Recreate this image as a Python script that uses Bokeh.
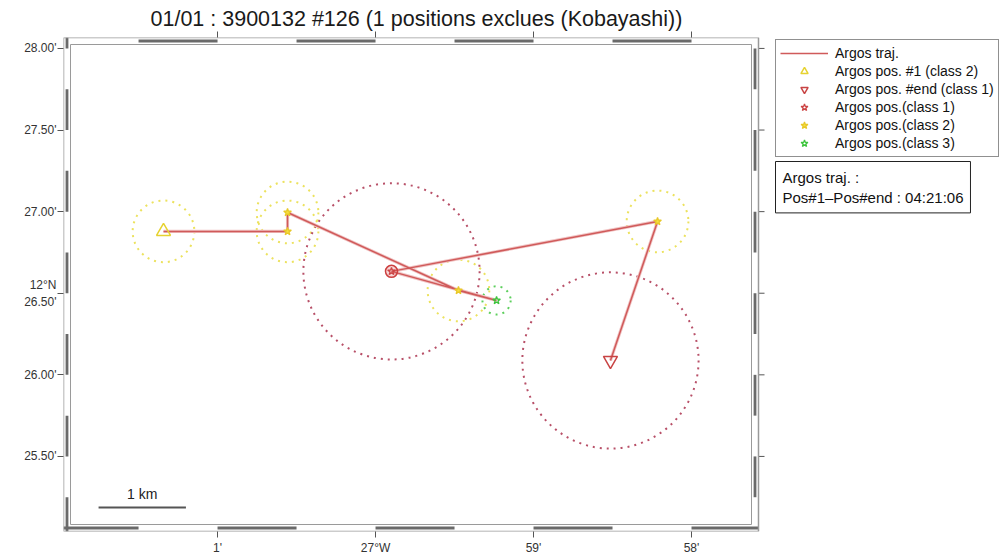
import math
from bokeh.plotting import figure
from bokeh.models import Range1d, LinearAxis, FixedTicker, Label, Legend, LegendItem
from bokeh.embed import file_html
from bokeh.resources import INLINE

# ---------------- data ----------------
# positions in minutes: longitude relative to 27°W (east positive), latitude north of 12°N
lon_min = [-1.342, -0.557, -0.557, 0.525, 0.766, 0.101, 1.785, 1.487]
lat_min = [26.879, 26.879, 26.995, 26.517, 26.456, 26.634, 26.940, 26.088]
argos_class = [2, 2, 2, 2, 3, 1, 2, 1]
err_radius_m = [350, 350, 350, 350, 160, 1000, 350, 1000]

lat_ticks = [25.5, 26.0, 26.5, 27.0, 27.5, 28.0]
lat_tick_labels = ["25.50'", "26.00'", "26.50'", "27.00'", "27.50'", "28.00'"]
lon_ticks = [-1, 0, 1, 2]
lon_tick_labels = ["1'", "27°W", "59'", "58'"]
lat_deg_label = "12°N"
title_text = "01/01 : 3900132 #126 (1 positions exclues (Kobayashi))"
legend_labels = ["Argos traj.", "Argos pos. #1 (class 2)", "Argos pos. #end (class 1)",
                 "Argos pos.(class 1)", "Argos pos.(class 2)", "Argos pos.(class 3)"]
info_text = "Argos traj. :\nPos#1\u2013Pos#end : 04:21:06"
scale_km = 1.0
base_lat_deg = 12.0

# ---------------- style / layout ----------------
FONT = "Liberation Sans"
X0, X1 = -1.975, 2.424          # map frame (minutes)
Y0, Y1 = 25.04, 28.067
FW, FH = 695, 494               # map frame size in px
ML, MT = 63, 37
PXX = FW / (X1 - X0)            # px per lon minute
XR1 = X0 + (1000 - ML) / PXX    # plotting frame extends to the right edge (legend area)
class_line = {1: "#b85068", 2: "#ece25e", 3: "#5ccf5c"}
class_marker_line = {1: "#cc4444", 2: "#e8c828", 3: "#3cc43c"}
class_marker_fill = {1: None, 2: "#f6e040", 3: None}

p = figure(width=1000, height=560, x_range=Range1d(X0, XR1), y_range=Range1d(Y0, Y1),
           output_backend="svg", toolbar_location=None,
           x_axis_location=None, y_axis_location=None,
           min_border_left=ML, min_border_right=0,
           min_border_top=MT, min_border_bottom=560 - MT - FH)
p.grid.grid_line_color = None
p.outline_line_color = None
p.background_fill_color = "white"

p.title.text = title_text
p.title.text_font = FONT
p.title.text_font_size = "21.5px"
p.title.text_font_style = "normal"
p.title.text_color = "#1a1a1a"
p.title.align = "left"
p.title.offset = 87
p.title.standoff = 1


def style_axis(ax, size="12px", standoff=1):
    ax.axis_line_color = None
    ax.major_tick_out = 6
    ax.major_tick_in = 0
    ax.minor_tick_line_color = None
    ax.major_tick_line_color = "#555555"
    ax.major_label_text_font = FONT
    ax.major_label_text_font_size = size
    ax.major_label_text_color = "#333333"
    ax.major_label_standoff = standoff


lat_over = {t: l for t, l in zip(lat_ticks, lat_tick_labels)}
lat_over[26.5] = lat_deg_label + "\n" + lat_tick_labels[2]
left = LinearAxis(ticker=FixedTicker(ticks=lat_ticks), major_label_overrides=lat_over)
style_axis(left)
p.add_layout(left, "left")

lon_over = {t: l for t, l in zip(lon_ticks, lon_tick_labels)}
bottom = LinearAxis(ticker=FixedTicker(ticks=lon_ticks), major_label_overrides=lon_over)
style_axis(bottom, standoff=3)
p.add_layout(bottom, "below")

top = LinearAxis(ticker=FixedTicker(ticks=lon_ticks), major_label_overrides={t: "" for t in lon_ticks})
style_axis(top, size="1px", standoff=0)
p.add_layout(top, "above")

# right-side ticks of the map frame (frame edge is inside the plotting area)
tick_dx = 6 / PXX
p.segment(x0=[X1] * len(lat_ticks), y0=lat_ticks, x1=[X1 + tick_dx] * len(lat_ticks), y1=lat_ticks,
          line_color="#555555", line_width=1)

# ---- fancy frame ----
tx = 7 / PXX
ty = 7 * (Y1 - Y0) / FH
dark = "#6a6a6a"
bl, br, tl, trr = [], [], [], []
for n in range(-3, 4):
    a, b = max(n, X0), min(n + 0.5, X1)
    if b > a:
        bl.append(a); br.append(b)
    a, b = max(n + 0.5, X0), min(n + 1.0, X1)
    if b > a:
        tl.append(a); trr.append(b)
p.quad(left=bl, right=br, bottom=Y0 + 0.3 * ty, top=Y0 + 0.7 * ty, fill_color=dark, line_color=None)
p.quad(left=tl, right=trr, bottom=Y1 - 0.7 * ty, top=Y1 - 0.3 * ty, fill_color=dark, line_color=None)
lb, lt, rb, rt = [], [], [], []
for k in range(48, 58):
    v = k / 2
    a, b = max(v, Y0), min(v + 0.25, Y1)
    if b > a:
        lb.append(a); lt.append(b)
    a, b = max(v + 0.25, Y0), min(v + 0.5, Y1)
    if b > a:
        rb.append(a); rt.append(b)
p.quad(left=X0 + 0.3 * tx, right=X0 + 0.7 * tx, bottom=lb, top=lt, fill_color=dark, line_color=None)
p.quad(left=X1 - 0.7 * tx, right=X1 - 0.3 * tx, bottom=rb, top=rt, fill_color=dark, line_color=None)
p.quad(left=X0, right=X1, bottom=Y0, top=Y1, fill_color=None, line_color="#9a9a9a", line_width=1.5)
p.quad(left=X0 + tx, right=X1 - tx, bottom=Y0 + ty, top=Y1 - ty, fill_color=None,
       line_color="#9a9a9a", line_width=1)

# ---- error circles ----
r_min = [m / 1852.0 for m in err_radius_m]
p.circle(x=lon_min, y=lat_min, radius=r_min, radius_dimension="y", fill_color=None,
         line_color=[class_line[c] for c in argos_class], line_dash="2 5", line_width=2)

# ---- trajectory ----
p.line(lon_min, lat_min, line_color="#f0c4c4", line_width=3.2)
traj = p.line(lon_min, lat_min, line_color="#d05a5a", line_width=1.5)

# ---- positions ----
n = len(lon_min)
mid = range(1, n - 1)
cls_r = {}
for c in (1, 2, 3):
    xs = [lon_min[i] for i in mid if argos_class[i] == c]
    ys = [lat_min[i] for i in mid if argos_class[i] == c]
    if c == 1:
        p.scatter(xs, ys, marker="circle", size=12, fill_color="#e06060", fill_alpha=0.25,
                  line_color="#cc4040", line_width=1.5)
    cls_r[c] = p.scatter(xs, ys, marker="star", size=8, fill_color=class_marker_fill[c],
                         line_color=class_marker_line[c], line_width=1.3)

start_r = p.scatter([lon_min[0]], [lat_min[0]], marker="triangle", size=14, fill_color=None,
                    line_color="#e6d230", line_width=1.5)
end_r = p.scatter([lon_min[-1]], [lat_min[-1]], marker="inverted_triangle", size=14, fill_color=None,
                  line_color="#c84444", line_width=1.5)

# ---- scale bar ----
mid_lat = base_lat_deg + (Y0 + Y1) / 2 / 60.0
sb_len = scale_km / (1.852 * math.cos(math.radians(mid_lat)))
sb_x0, sb_y = -1.753, 25.1875
p.segment(x0=[sb_x0], y0=[sb_y], x1=[sb_x0 + sb_len], y1=[sb_y], line_color="#555555", line_width=2)
p.add_layout(Label(x=sb_x0 + sb_len / 2, y=sb_y, y_offset=5, text=f"{scale_km:g} km",
                   text_align="center", text_baseline="bottom", text_font=FONT,
                   text_font_size="14px", text_color="#222222"))

# ---- legend ----
legend = Legend(items=[
    LegendItem(label=legend_labels[0], renderers=[traj]),
    LegendItem(label=legend_labels[1], renderers=[start_r]),
    LegendItem(label=legend_labels[2], renderers=[end_r]),
    LegendItem(label=legend_labels[3], renderers=[cls_r[1]]),
    LegendItem(label=legend_labels[4], renderers=[cls_r[2]]),
    LegendItem(label=legend_labels[5], renderers=[cls_r[3]]),
], location=(712, 374))
legend.label_text_font = FONT
legend.label_text_font_size = "14px"
legend.label_text_color = "#111111"
legend.label_height = 18
legend.glyph_height = 18
legend.glyph_width = 48
legend.label_standoff = 7
legend.padding = 4
legend.spacing = 0
legend.margin = 0
legend.border_line_color = "#222222"
legend.border_line_width = 1
legend.background_fill_alpha = 1.0
p.add_layout(legend)

# ---- info box ----
p.add_layout(Label(x=712, y=370, x_units="screen", y_units="screen", text=info_text,
                   text_align="left", text_baseline="top", text_font=FONT,
                   text_font_size="15px", text_color="#111111", text_line_height=1.2,
                   border_line_color="#222222", border_line_width=1,
                   background_fill_color="white", padding=7))

open("out.html", "w").write(file_html(p, INLINE))
